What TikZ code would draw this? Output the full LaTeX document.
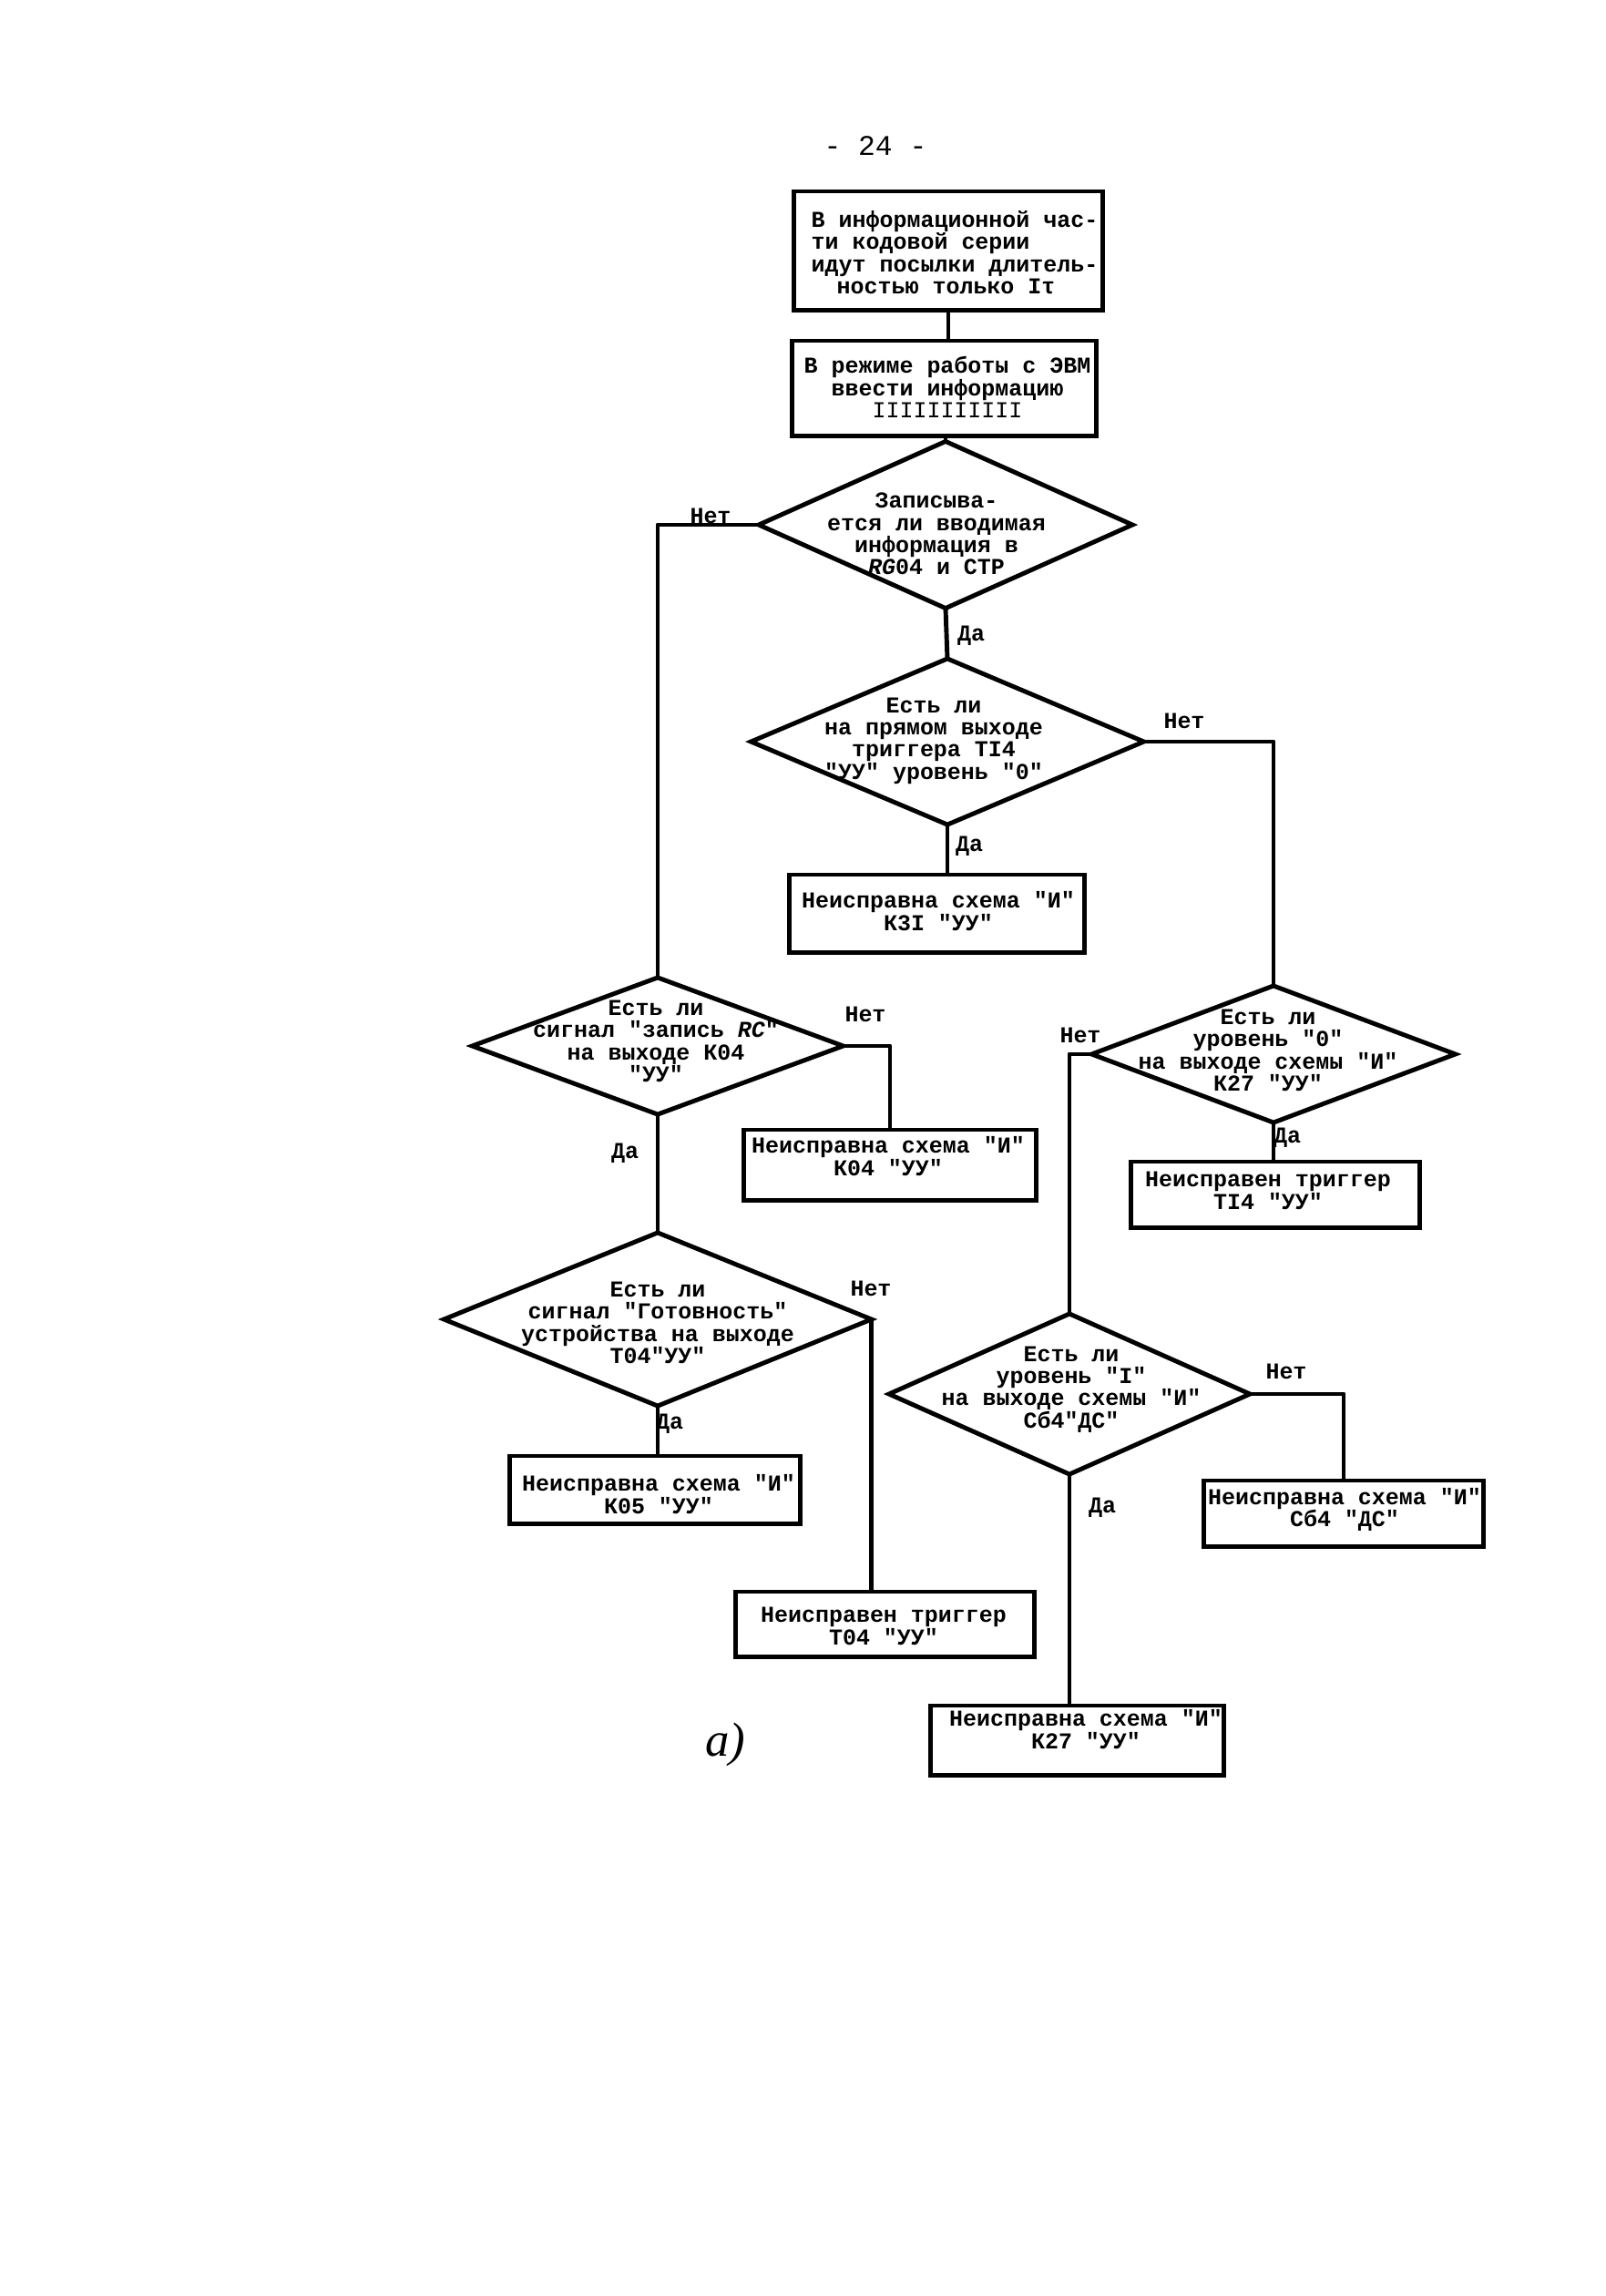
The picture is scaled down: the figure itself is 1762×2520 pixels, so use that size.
\documentclass[tikz,border=0pt]{standalone}
\usepackage{fontspec}
\setmonofont{Liberation Mono}
\newfontfamily\seritfont{Liberation Serif}
\usetikzlibrary{shapes.geometric}
\newcommand\tyfont{\ttfamily\bfseries\fontsize{7.1pt}{6.9pt}\selectfont}
\newcommand\pgnfont{\ttfamily\fontsize{8.9pt}{9pt}\selectfont}
\begin{document}
\begin{tikzpicture}[x=0.01cm,y=-0.01cm,
  ln/.style={line width=1.4pt, line join=round},
  boxst/.style={draw, line width=1.4pt, rectangle, inner sep=0pt, outer sep=0pt},
  diam/.style={draw, line width=1.4pt, diamond, inner sep=0pt, outer sep=0pt},
  txt/.style={inner sep=0pt, align=center, font=\tyfont},
  lbl/.style={inner sep=0pt, font=\tyfont}]
\fill[white] (0,0) rectangle (1762,2520);
\useasboundingbox (0,0) rectangle (1762,2520);

\node[inner sep=0pt, font=\pgnfont] (pg) at (961,160) {- 24 -};

% boxes
\node[boxst, minimum width=3.38cm, minimum height=1.30cm] (b1) at (1041,275) {};
\node[boxst, minimum width=3.33cm, minimum height=1.04cm] (b2) at (1036.5,426) {};
\node[boxst, minimum width=3.23cm, minimum height=0.85cm] (k31) at (1028.5,1002.5) {};
\node[boxst, minimum width=3.20cm, minimum height=0.77cm] (k04) at (977,1278.5) {};
\node[boxst, minimum width=3.18cm, minimum height=0.74cm] (k05) at (719,1635) {};
\node[boxst, minimum width=3.27cm, minimum height=0.71cm] (t04) at (971.5,1782.5) {};
\node[boxst, minimum width=3.16cm, minimum height=0.72cm] (ti4) at (1400,1311) {};
\node[boxst, minimum width=3.07cm, minimum height=0.72cm] (c64) at (1475,1661) {};
\node[boxst, minimum width=3.21cm, minimum height=0.76cm] (k27) at (1182.5,1910) {};

% diamonds
\node[diam, minimum width=4.10cm, minimum height=1.83cm] (d1) at (1038,576) {};
\node[diam, minimum width=4.31cm, minimum height=1.82cm] (d2) at (1040,814) {};
\node[diam, minimum width=4.07cm, minimum height=1.50cm] (d3) at (722,1148) {};
\node[diam, minimum width=3.99cm, minimum height=1.50cm] (d4) at (1398,1157) {};
\node[diam, minimum width=4.69cm, minimum height=1.90cm] (d5) at (722,1448) {};
\node[diam, minimum width=3.96cm, minimum height=1.76cm] (d6) at (1174,1530) {};

% connectors
\draw[ln] (b1.south) -- (b1.south |- b2.north);
\draw[ln] (b2.south -| d1.north) -- (d1.north);
\draw[ln] (d1.west) -| (d3.north);
\draw[ln] (d1.south) -- (d2.north);
\draw[ln] (d2.east) -| (d4.north);
\draw[ln] (d2.south) -- (d2.south |- k31.north);
\draw[ln] (d3.east) -| (k04.north);
\draw[ln] (d3.south) -- (d5.north);
\draw[ln] (d5.south) -- (d5.south |- k05.north);
\draw[ln] (d5.east) -- (d5.east |- t04.north);
\draw[ln] (d4.south) -- (d4.south |- ti4.north);
\draw[ln] (d4.west) -| (d6.north);
\draw[ln] (d6.east) -| (c64.north);
\draw[ln] (d6.south) -- (d6.south |- k27.north);

% texts
\node[txt, align=left, anchor=west] (tb1) at (890,277) {В информационной час-\\ти кодовой серии\\идут посылки длитель-\\\hspace*{0.28cm}ностью только Iτ};
\node[txt] (tb2) at (1040,425) {В режиме работы с ЭВМ\\ввести информацию\\{\mdseries IIIIIIIIIII}};
\node[txt] (td1) at (1028,586) {Записыва-\\ется ли вводимая\\информация в\\{\itshape RG}04 и СТР};
\node[txt] (td2) at (1025,813) {Есть ли\\на прямом выходе\\триггера ТI4\\"УУ" уровень "0"};
\node[txt] (tk31) at (1030,1000) {Неисправна схема "И"\\К3I "УУ"};
\node[txt] (td3) at (720,1143) {Есть ли\\сигнал "запись {\itshape RC}"\\на выходе К04\\"УУ"};
\node[txt] (tk04) at (975,1269) {Неисправна схема "И"\\К04 "УУ"};
\node[txt] (td5) at (722,1452) {Есть ли\\сигнал "Готовность"\\устройства на выходе\\Т04"УУ"};
\node[txt] (tk05) at (723,1640) {Неисправна схема "И"\\К05 "УУ"};
\node[txt] (tt04) at (970,1785) {Неисправен триггер\\Т04 "УУ"};
\node[txt] (td4) at (1392,1153) {Есть ли\\уровень "0"\\на выходе схемы "И"\\К27 "УУ"};
\node[txt] (tti4) at (1392,1307) {Неисправен триггер\\ТI4 "УУ"};
\node[txt] (td6) at (1176,1525) {Есть ли\\уровень "I"\\на выходе схемы "И"\\Сб4"ДС"};
\node[txt] (tc64) at (1476,1657) {Неисправна схема "И"\\Сб4 "ДС"};
\node[txt] (tk27) at (1192,1898) {Неисправна схема "И"\\К27 "УУ"};

% labels
\node[lbl] (n1) at (780,566) {Нет};
\node[lbl] (y1) at (1066,698) {Да};
\node[lbl] (n2) at (1300,791) {Нет};
\node[lbl] (y2) at (1064,929) {Да};
\node[lbl] (n3) at (950,1113) {Нет};
\node[lbl] (y3) at (686,1266) {Да};
\node[lbl] (n5) at (956,1414) {Нет};
\node[lbl] (y5) at (735,1563) {Да};
\node[lbl] (n4) at (1186,1136) {Нет};
\node[lbl] (y4) at (1413,1249) {Да};
\node[lbl] (n6) at (1412,1505) {Нет};
\node[lbl] (y6) at (1210,1655) {Да};

\node[inner sep=0pt, font=\seritfont\itshape\fontsize{15pt}{16pt}\selectfont] (cap) at (796,1915) {а)};
\end{tikzpicture}
\end{document}
